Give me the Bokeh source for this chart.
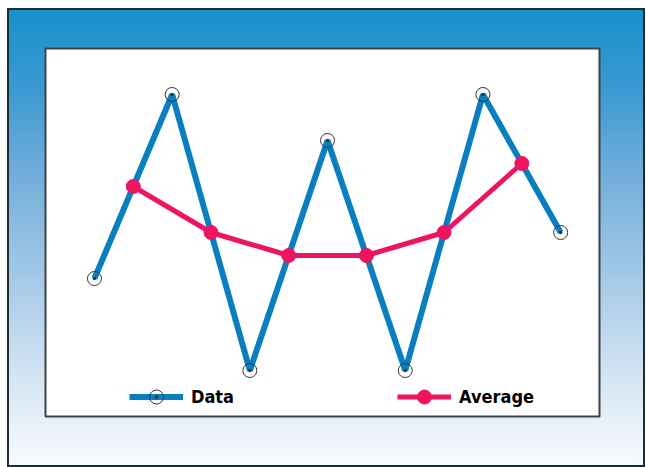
from bokeh.plotting import figure
from bokeh.models import Legend, LegendItem, Range1d
from bokeh.embed import file_html
from bokeh.resources import INLINE

# data
data_x = [0, 1, 2, 3, 4, 5, 6]
data_y = [4, 8, 2, 7, 2, 8, 5]
avg_x = [0.5, 1.5, 2.5, 3.5, 4.5, 5.5]
avg_y = [6, 5, 4.5, 4.5, 5, 6.5]

BLUE = "#0a7fc0"
PINK = "#ee1462"

p = figure(width=638, height=459, output_backend="svg", toolbar_location=None,
           x_range=Range1d(-0.63, 6.5), y_range=Range1d(1, 9),
           min_border_left=38, min_border_top=40, min_border_right=46, min_border_bottom=51)
p.axis.visible = False
p.grid.visible = False
p.border_fill_alpha = 0
p.background_fill_color = "white"
p.outline_line_color = "#3a4348"
p.outline_line_width = 2
p.styles = {
    "background": "linear-gradient(to bottom, #1590cb 0%, #3c9ad1 18%, #6eacda 35%, #a3c8e7 58%, #d3e4f3 80%, #f9fbfe 100%)",
    "outline": "2px solid #1d2c30",
    "outline-offset": "-2px",
    "margin": "8px 0 0 7px",
}

l1 = p.line(data_x, data_y, line_color=BLUE, line_width=6)
m1 = p.scatter(data_x, data_y, marker="circle_dot", size=14, fill_alpha=0,
               line_color="#333333", line_width=1)
l2 = p.line(avg_x, avg_y, line_color=PINK, line_width=5)
m2 = p.scatter(avg_x, avg_y, marker="circle", size=14, fill_color=PINK, line_color=PINK)

legend = Legend(items=[LegendItem(label="Data", renderers=[l1, m1]),
                       LegendItem(label="Average", renderers=[l2, m2])],
                orientation="horizontal", location=(84, 2),
                glyph_width=54, glyph_height=35, label_standoff=8,
                label_width=37, spacing=163, padding=0, margin=0,
                background_fill_alpha=0, border_line_alpha=0,
                label_text_font="DejaVu Sans Condensed",
                label_text_font_style="bold", label_text_font_size="18px",
                label_text_color="black")
p.add_layout(legend)

open("out.html", "w").write(file_html(p, INLINE))
